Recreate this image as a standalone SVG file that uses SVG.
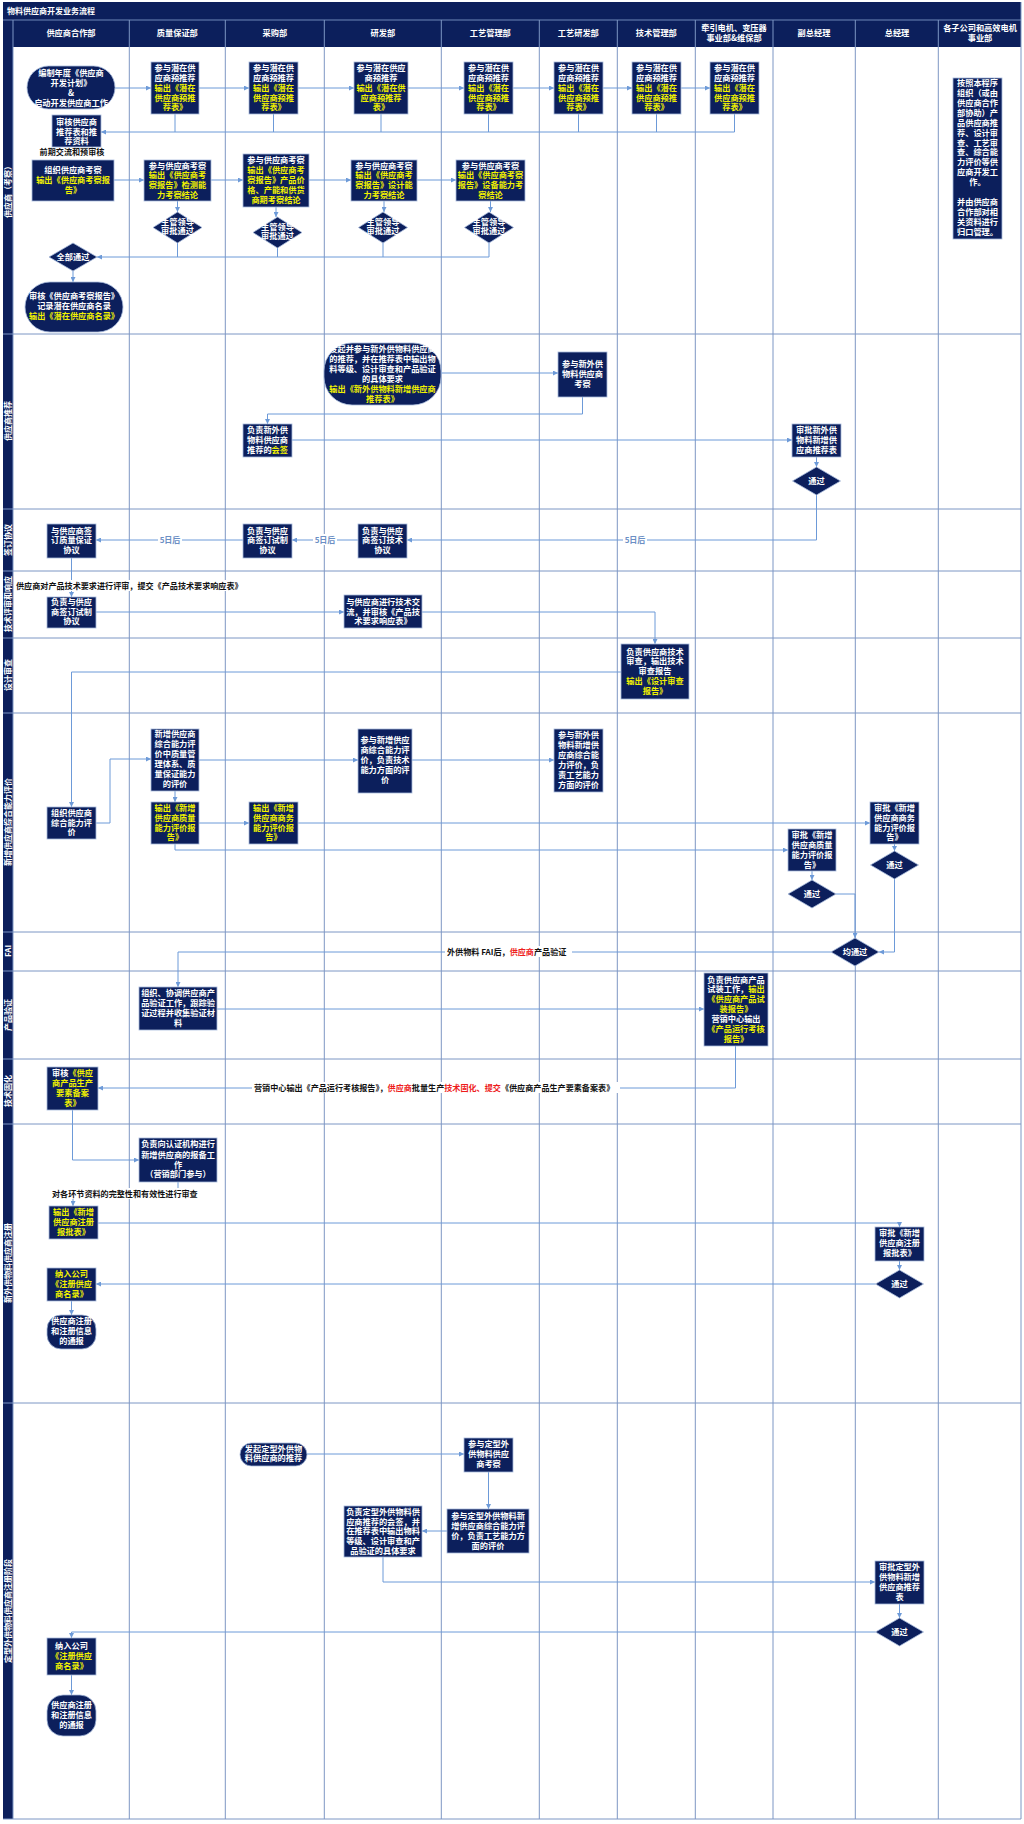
<svg xmlns="http://www.w3.org/2000/svg" width="1024" height="1824" viewBox="0 0 1024 1824">
<style>
.n{fill:#0c1f5c;stroke:#a8bbdc;stroke-width:0.8}
.t{font-family:"Noto Sans CJK SC","Noto Sans",sans-serif;font-size:8.2px;font-weight:bold;fill:#ffffff;text-anchor:middle}
.y{fill:#f2f200}
.r{fill:#ee1c1c}
.k{font-family:"Noto Sans CJK SC","Noto Sans",sans-serif;font-size:8.1px;font-weight:bold;fill:#111111}
.d{font-family:"Noto Sans CJK SC","Noto Sans",sans-serif;font-size:8px;font-weight:bold;fill:#6b8fc4;text-anchor:middle}
.h{font-family:"Noto Sans CJK SC","Noto Sans",sans-serif;font-size:8.2px;font-weight:bold;fill:#ffffff;text-anchor:middle}
.g{stroke:#7d96c4;stroke-width:1;fill:none}
.c{fill:none;stroke:#6d9ad8;stroke-width:1}
.a{marker-end:url(#ah)}
</style>
<defs>
<marker id="ah" viewBox="0 0 6 6" refX="6" refY="3" markerWidth="5" markerHeight="5" orient="auto" markerUnits="userSpaceOnUse"><path d="M0,0 L6,3 L0,6 z" fill="#6d9ad8"/></marker>
</defs>
<rect x="0" y="0" width="1024" height="1824" fill="#ffffff"/>
<!-- frame -->
<g id="frame">
<rect x="3" y="2" width="1018" height="45" fill="#0c1f5c"/>
<rect x="3" y="2" width="10" height="1817" fill="#0c1f5c"/>
<line x1="3" y1="20" x2="1021" y2="20" stroke="#6f88b8" stroke-width="1"/>
<text x="7" y="14" class="h" style="text-anchor:start;font-size:8px">物料供应商开发业务流程</text>
<g class="g">
<line x1="13" y1="20" x2="13" y2="1819"/>
<line x1="129.3" y1="20" x2="129.3" y2="1819"/>
<line x1="225.3" y1="20" x2="225.3" y2="1819"/>
<line x1="324.3" y1="20" x2="324.3" y2="1819"/>
<line x1="441.3" y1="20" x2="441.3" y2="1819"/>
<line x1="539.3" y1="20" x2="539.3" y2="1819"/>
<line x1="617.3" y1="20" x2="617.3" y2="1819"/>
<line x1="695.3" y1="20" x2="695.3" y2="1819"/>
<line x1="773" y1="20" x2="773" y2="1819"/>
<line x1="855.3" y1="20" x2="855.3" y2="1819"/>
<line x1="938.3" y1="20" x2="938.3" y2="1819"/>
<line x1="1021" y1="2" x2="1021" y2="1819"/>
<line x1="3" y1="334" x2="1021" y2="334"/>
<line x1="3" y1="509" x2="1021" y2="509"/>
<line x1="3" y1="571" x2="1021" y2="571"/>
<line x1="3" y1="638" x2="1021" y2="638"/>
<line x1="3" y1="713" x2="1021" y2="713"/>
<line x1="3" y1="932" x2="1021" y2="932"/>
<line x1="3" y1="971" x2="1021" y2="971"/>
<line x1="3" y1="1059" x2="1021" y2="1059"/>
<line x1="3" y1="1124" x2="1021" y2="1124"/>
<line x1="3" y1="1403" x2="1021" y2="1403"/>
<line x1="3" y1="1819" x2="1021" y2="1819"/>
</g>
<g class="h">
<text x="71" y="36">供应商合作部</text>
<text x="177.3" y="36">质量保证部</text>
<text x="274.8" y="36">采购部</text>
<text x="382.8" y="36">研发部</text>
<text x="490.3" y="36">工艺管理部</text>
<text x="578.3" y="36">工艺研发部</text>
<text x="656.3" y="36">技术管理部</text>
<text x="734" y="31">牵引电机、变压器</text>
<text x="734" y="41">事业部&amp;维保部</text>
<text x="814" y="36">副总经理</text>
<text x="897" y="36">总经理</text>
<text x="980" y="31">各子公司和高效电机</text>
<text x="980" y="41">事业部</text>
</g>
<g class="h" style="font-size:8px">
<text transform="translate(11,190) rotate(-90)">供应商（考察）</text>
<text transform="translate(11,421) rotate(-90)">供应商推荐</text>
<text transform="translate(11,540) rotate(-90)">签订协议</text>
<text transform="translate(11,604) rotate(-90)">技术评审和响应</text>
<text transform="translate(11,675) rotate(-90)">设计审查</text>
<text transform="translate(11,822) rotate(-90)">新增供应商综合能力评价</text>
<text transform="translate(11,951) rotate(-90)">FAI</text>
<text transform="translate(11,1015) rotate(-90)">产品验证</text>
<text transform="translate(11,1091) rotate(-90)">技术固化</text>
<text transform="translate(11,1263) rotate(-90)">新外供物料供应商注册</text>
<text transform="translate(11,1611) rotate(-90)">定型外供物料供应商注册阶段</text>
</g>
</g>

<g id="connectors">
<path class="c a" d="M115,88 H151"/>
<path class="c a" d="M199,88 H249"/>
<path class="c a" d="M298,88 H354"/>
<path class="c a" d="M408,88 H464"/>
<path class="c a" d="M513,88 H554"/>
<path class="c a" d="M603,88 H632"/>
<path class="c a" d="M681,88 H710"/>
<path class="c" d="M175,114 V132 M273.5,114 V132 M381,114 V132 M488.5,114 V132 M578.5,114 V132 M656.5,114 V132"/>
<path class="c a" d="M734.5,114 V132 H101"/>
<path class="c a" d="M114,180 H144"/>
<path class="c a" d="M211,180 H243"/>
<path class="c a" d="M309,180 H351"/>
<path class="c a" d="M417,180 H456"/>
<path class="c a" d="M177.5,201 V212"/>
<path class="c a" d="M276,207 V217"/>
<path class="c a" d="M384,201 V212"/>
<path class="c a" d="M490.5,201 V212"/>
<path class="c" d="M177.5,243 V257 M277.5,248 V257 M383,243 V257"/>
<path class="c a" d="M489,243 V257 H97"/>
<path class="c a" d="M73,271 V282"/>
<path class="c a" d="M441,373 H558"/>
<path class="c a" d="M582.5,397 V414 H267.5 V424"/>
<path class="c a" d="M292,440 H792"/>
<path class="c a" d="M816.5,457 V467"/>
<path class="c a" d="M816.5,495 V540 H407"/>
<path class="c a" d="M358,540 H292"/>
<path class="c a" d="M243,540 H96"/>
<path class="c a" d="M71.5,558 V597"/>
<path class="c a" d="M96,612 H344"/>
<path class="c a" d="M422,612 H655 V644"/>
<path class="c a" d="M621,672 H71.5 V807"/>
<path class="c a" d="M96,823 H110 V759 H151"/>
<path class="c a" d="M199,760 H358"/>
<path class="c a" d="M412,760 H554"/>
<path class="c a" d="M175,791 V802"/>
<path class="c a" d="M199,823 H249"/>
<path class="c a" d="M298,823 H870"/>
<path class="c a" d="M175,844 V850 H788"/>
<path class="c a" d="M812,871 V880"/>
<path class="c a" d="M894.5,844 V851"/>
<path class="c a" d="M836,894 H855 V938"/>
<path class="c a" d="M894.5,879 V952 H879"/>
<path class="c a" d="M831,952 H178 V987"/>
<path class="c a" d="M217,1009 H704"/>
<path class="c a" d="M735.5,1046 V1088 H98"/>
<path class="c a" d="M72.5,1110 V1160 H139"/>
<path class="c a" d="M178,1182 V1194 H73 V1206"/>
<path class="c a" d="M98,1223 H899.5 V1227"/>
<path class="c a" d="M899.5,1261 V1270"/>
<path class="c a" d="M875.5,1284 H96"/>
<path class="c a" d="M71.5,1301 V1315"/>
<path class="c a" d="M307,1454 H464"/>
<path class="c a" d="M488.5,1472 V1509"/>
<path class="c a" d="M447,1531 H422"/>
<path class="c a" d="M383,1557 V1582 H875"/>
<path class="c a" d="M899.5,1604 V1618"/>
<path class="c a" d="M875.5,1632 H71.5 V1638"/>
<path class="c a" d="M71.5,1675 V1695"/>
<!-- labels on connectors -->
<rect x="158" y="534" width="24" height="11" fill="#fff"/><text class="d" x="170" y="543">5日后</text>
<rect x="313" y="534" width="24" height="11" fill="#fff"/><text class="d" x="325" y="543">5日后</text>
<rect x="623" y="534" width="24" height="11" fill="#fff"/><text class="d" x="635" y="543">5日后</text>
<rect x="14" y="580" width="228" height="11" fill="#fff"/>
<text class="k" x="16" y="589">供应商对产品技术要求进行评审，提交《产品技术要求响应表》</text>
<text class="k" x="72" y="155" style="text-anchor:middle">前期交流和预审核</text>
<rect x="445" y="946" width="127" height="11" fill="#fff"/>
<text class="k" x="447" y="955">外供物料 FAI后，<tspan class="r">供应商</tspan>产品验证</text>
<rect x="252" y="1082" width="368" height="11" fill="#fff"/>
<text class="k" x="254" y="1091">营销中心输出《产品运行考核报告》，<tspan class="r">供应商</tspan>批量生产<tspan class="r">技术固化、提交</tspan>《供应商产品生产要素备案表》</text>
<rect x="50" y="1188" width="152" height="11" fill="#fff"/>
<text class="k" x="52" y="1197">对各环节资料的完整性和有效性进行审查</text>
</g>

<!-- Row 1 -->
<g id="n-plan"><rect class="n" x="27" y="66" width="88" height="43" rx="21.5"/>
<text class="t"><tspan x="71" y="76">编制年度《供应商</tspan><tspan x="71" y="86">开发计划》</tspan><tspan x="71" y="96">&amp;</tspan><tspan x="71" y="106">启动开发供应商工作</tspan></text></g>
<g id="n-review-rec"><rect class="n" x="52" y="115" width="49" height="32"/>
<text class="t"><tspan x="76.5" y="125">审核供应商</tspan><tspan x="76.5" y="135">推荐表和推</tspan><tspan x="76.5" y="144">荐资料</tspan></text></g>
<g id="n-org-visit"><rect class="n" x="32" y="160" width="82" height="41"/>
<text class="t"><tspan x="73" y="173">组织供应商考察</tspan><tspan x="73" y="183" class="y">输出《供应商考察报</tspan><tspan x="73" y="193" class="y">告》</tspan></text></g>

<g id="n-pre-qa"><rect class="n" x="151" y="62" width="48" height="52"/>
<text class="t"><tspan x="175" y="71">参与潜在供</tspan><tspan x="175" y="81">应商预推荐</tspan><tspan x="175" y="91" class="y">输出《潜在</tspan><tspan x="175" y="101" class="y">供应商预推</tspan><tspan x="175" y="110" class="y">荐表》</tspan></text></g>
<g id="n-pre-pur"><rect class="n" x="249" y="62" width="49" height="52"/>
<text class="t"><tspan x="273.5" y="71">参与潜在供</tspan><tspan x="273.5" y="81">应商预推荐</tspan><tspan x="273.5" y="91" class="y">输出《潜在</tspan><tspan x="273.5" y="101" class="y">供应商预推</tspan><tspan x="273.5" y="110" class="y">荐表》</tspan></text></g>
<g id="n-pre-rd"><rect class="n" x="354" y="62" width="54" height="52"/>
<text class="t"><tspan x="381" y="71">参与潜在供应</tspan><tspan x="381" y="81">商预推荐</tspan><tspan x="381" y="91" class="y">输出《潜在供</tspan><tspan x="381" y="101" class="y">应商预推荐</tspan><tspan x="381" y="110" class="y">表》</tspan></text></g>
<g id="n-pre-pm"><rect class="n" x="464" y="62" width="49" height="52"/>
<text class="t"><tspan x="488.5" y="71">参与潜在供</tspan><tspan x="488.5" y="81">应商预推荐</tspan><tspan x="488.5" y="91" class="y">输出《潜在</tspan><tspan x="488.5" y="101" class="y">供应商预推</tspan><tspan x="488.5" y="110" class="y">荐表》</tspan></text></g>
<g id="n-pre-prd"><rect class="n" x="554" y="62" width="49" height="52"/>
<text class="t"><tspan x="578.5" y="71">参与潜在供</tspan><tspan x="578.5" y="81">应商预推荐</tspan><tspan x="578.5" y="91" class="y">输出《潜在</tspan><tspan x="578.5" y="101" class="y">供应商预推</tspan><tspan x="578.5" y="110" class="y">荐表》</tspan></text></g>
<g id="n-pre-tech"><rect class="n" x="632" y="62" width="49" height="52"/>
<text class="t"><tspan x="656.5" y="71">参与潜在供</tspan><tspan x="656.5" y="81">应商预推荐</tspan><tspan x="656.5" y="91" class="y">输出《潜在</tspan><tspan x="656.5" y="101" class="y">供应商预推</tspan><tspan x="656.5" y="110" class="y">荐表》</tspan></text></g>
<g id="n-pre-motor"><rect class="n" x="710" y="62" width="49" height="52"/>
<text class="t"><tspan x="734.5" y="71">参与潜在供</tspan><tspan x="734.5" y="81">应商预推荐</tspan><tspan x="734.5" y="91" class="y">输出《潜在</tspan><tspan x="734.5" y="101" class="y">供应商预推</tspan><tspan x="734.5" y="110" class="y">荐表》</tspan></text></g>

<g id="n-visit-qa"><rect class="n" x="144" y="160" width="67" height="41"/>
<text class="t"><tspan x="177.5" y="169">参与供应商考察</tspan><tspan x="177.5" y="178" class="y">输出《供应商考</tspan><tspan x="177.5" y="188" class="y">察报告》检测能</tspan><tspan x="177.5" y="198" class="y">力考察结论</tspan></text></g>
<g id="n-visit-pur"><rect class="n" x="243" y="154" width="66" height="53"/>
<text class="t"><tspan x="276" y="163">参与供应商考察</tspan><tspan x="276" y="173" class="y">输出《供应商考</tspan><tspan x="276" y="183" class="y">察报告》产品价</tspan><tspan x="276" y="193" class="y">格、产能和供货</tspan><tspan x="276" y="203" class="y">商期考察结论</tspan></text></g>
<g id="n-visit-rd"><rect class="n" x="351" y="160" width="66" height="41"/>
<text class="t"><tspan x="384" y="169">参与供应商考察</tspan><tspan x="384" y="178" class="y">输出《供应商考</tspan><tspan x="384" y="188" class="y">察报告》设计能</tspan><tspan x="384" y="198" class="y">力考察结论</tspan></text></g>
<g id="n-visit-pm"><rect class="n" x="456" y="160" width="69" height="41"/>
<text class="t"><tspan x="490.5" y="169">参与供应商考察</tspan><tspan x="490.5" y="178" class="y">输出《供应商考察</tspan><tspan x="490.5" y="188" class="y">报告》设备能力考</tspan><tspan x="490.5" y="198" class="y">察结论</tspan></text></g>

<g id="n-dec-qa"><polygon class="n" points="177.5,212 202,227.5 177.5,243 153,227.5"/>
<text class="t"><tspan x="177.5" y="225">主管领导</tspan><tspan x="177.5" y="234">审批通过</tspan></text></g>
<g id="n-dec-pur"><polygon class="n" points="277.5,217 302,232.5 277.5,248 253,232.5"/>
<text class="t"><tspan x="277.5" y="230">主管领导</tspan><tspan x="277.5" y="239">审批通过</tspan></text></g>
<g id="n-dec-rd"><polygon class="n" points="383,212 407.5,227.5 383,243 358.5,227.5"/>
<text class="t"><tspan x="383" y="225">主管领导</tspan><tspan x="383" y="234">审批通过</tspan></text></g>
<g id="n-dec-pm"><polygon class="n" points="489,212 513.5,227.5 489,243 464.5,227.5"/>
<text class="t"><tspan x="489" y="225">主管领导</tspan><tspan x="489" y="234">审批通过</tspan></text></g>
<g id="n-all-pass"><polygon class="n" points="73,243 97,257 73,271 49,257"/>
<text class="t" x="73" y="260">全部通过</text></g>
<g id="n-potential-list"><rect class="n" x="25" y="282" width="98" height="50" rx="25"/>
<text class="t"><tspan x="74" y="299">审核《供应商考察报告》</tspan><tspan x="74" y="309">记录潜在供应商名录</tspan><tspan x="74" y="319" class="y">输出《潜在供应商名录》</tspan></text></g>
<g id="n-subsidiary"><rect class="n" x="953" y="78" width="49" height="161"/>
<text class="t"><tspan x="977.5" y="86.3">按照本程序</tspan><tspan x="977.5" y="96.2">组织（或由</tspan><tspan x="977.5" y="106">供应商合作</tspan><tspan x="977.5" y="116">部协助）产</tspan><tspan x="977.5" y="125.8">品供应商推</tspan><tspan x="977.5" y="135.6">荐、设计审</tspan><tspan x="977.5" y="145.5">查、工艺审</tspan><tspan x="977.5" y="155.4">查、综合能</tspan><tspan x="977.5" y="165.2">力评价等供</tspan><tspan x="977.5" y="175">应商开发工</tspan><tspan x="977.5" y="185">作。</tspan><tspan x="977.5" y="205">并由供应商</tspan><tspan x="977.5" y="215">合作部对相</tspan><tspan x="977.5" y="225">关资料进行</tspan><tspan x="977.5" y="234.8">归口管理。</tspan></text></g>

<!-- Row 2 -->
<g id="n-new-rec"><rect class="n" x="324" y="343" width="117" height="62" rx="28"/>
<text class="t"><tspan x="382.5" y="352">发起并参与新外供物料供应商</tspan><tspan x="382.5" y="362">的推荐，并在推荐表中输出物</tspan><tspan x="382.5" y="372">料等级、设计审查和产品验证</tspan><tspan x="382.5" y="382">的具体要求</tspan><tspan x="382.5" y="392" class="y">输出《新外供物料新增供应商</tspan><tspan x="382.5" y="401.5" class="y">推荐表》</tspan></text></g>
<g id="n-new-visit"><rect class="n" x="558" y="352" width="49" height="45"/>
<text class="t"><tspan x="582.5" y="367">参与新外供</tspan><tspan x="582.5" y="377">物料供应商</tspan><tspan x="582.5" y="387">考察</tspan></text></g>
<g id="n-countersign"><rect class="n" x="243" y="424" width="49" height="33"/>
<text class="t"><tspan x="267.5" y="433">负责新外供</tspan><tspan x="267.5" y="443">物料供应商</tspan><tspan x="267.5" y="453">推荐的<tspan class="y">会签</tspan></tspan></text></g>
<g id="n-vp-approve-rec"><rect class="n" x="792" y="424" width="49" height="33"/>
<text class="t"><tspan x="816.5" y="433">审批新外供</tspan><tspan x="816.5" y="443">物料新增供</tspan><tspan x="816.5" y="453">应商推荐表</tspan></text></g>
<g id="n-vp-pass1"><polygon class="n" points="816.5,467 840.5,481 816.5,495 792.5,481"/>
<text class="t" x="816.5" y="484">通过</text></g>

<!-- Row 3 -->
<g id="n-tech-agree"><rect class="n" x="358" y="524" width="49" height="34"/>
<text class="t"><tspan x="382.5" y="534">负责与供应</tspan><tspan x="382.5" y="543">商签订技术</tspan><tspan x="382.5" y="553">协议</tspan></text></g>
<g id="n-trial-agree"><rect class="n" x="243" y="524" width="49" height="34"/>
<text class="t"><tspan x="267.5" y="534">负责与供应</tspan><tspan x="267.5" y="543">商签订试制</tspan><tspan x="267.5" y="553">协议</tspan></text></g>
<g id="n-quality-agree"><rect class="n" x="47" y="524" width="49" height="34"/>
<text class="t"><tspan x="71.5" y="534">与供应商签</tspan><tspan x="71.5" y="543">订质量保证</tspan><tspan x="71.5" y="553">协议</tspan></text></g>

<!-- Row 4 -->
<g id="n-trial-agree2"><rect class="n" x="47" y="597" width="49" height="31"/>
<text class="t"><tspan x="71.5" y="605">负责与供应</tspan><tspan x="71.5" y="615">商签订试制</tspan><tspan x="71.5" y="624">协议</tspan></text></g>
<g id="n-tech-exchange"><rect class="n" x="344" y="595" width="78" height="33"/>
<text class="t"><tspan x="383" y="605">与供应商进行技术交</tspan><tspan x="383" y="615">流，并审核《产品技</tspan><tspan x="383" y="624">术要求响应表》</tspan></text></g>

<!-- Row 5 -->
<g id="n-design-review"><rect class="n" x="621" y="644" width="68" height="55"/>
<text class="t"><tspan x="655" y="655">负责供应商技术</tspan><tspan x="655" y="664">审查，输出技术</tspan><tspan x="655" y="674">审查报告</tspan><tspan x="655" y="684" class="y">输出《设计审查</tspan><tspan x="655" y="694" class="y">报告》</tspan></text></g>

<!-- Row 6 -->
<g id="n-org-eval"><rect class="n" x="47" y="807" width="49" height="32"/>
<text class="t"><tspan x="71.5" y="816">组织供应商</tspan><tspan x="71.5" y="826">综合能力评</tspan><tspan x="71.5" y="835">价</tspan></text></g>
<g id="n-eval-qa"><rect class="n" x="151" y="729" width="48" height="62"/>
<text class="t"><tspan x="175" y="737">新增供应商</tspan><tspan x="175" y="747">综合能力评</tspan><tspan x="175" y="757">价中质量管</tspan><tspan x="175" y="767">理体系、质</tspan><tspan x="175" y="777">量保证能力</tspan><tspan x="175" y="787">的评价</tspan></text></g>
<g id="n-eval-rd"><rect class="n" x="358" y="729" width="54" height="64"/>
<text class="t"><tspan x="385" y="743">参与新增供应</tspan><tspan x="385" y="753">商综合能力评</tspan><tspan x="385" y="763">价，负责技术</tspan><tspan x="385" y="773">能力方面的评</tspan><tspan x="385" y="783">价</tspan></text></g>
<g id="n-eval-prd"><rect class="n" x="554" y="729" width="49" height="63"/>
<text class="t"><tspan x="578.5" y="738">参与新外供</tspan><tspan x="578.5" y="748">物料新增供</tspan><tspan x="578.5" y="758">应商综合能</tspan><tspan x="578.5" y="768">力评价，负</tspan><tspan x="578.5" y="778">责工艺能力</tspan><tspan x="578.5" y="788">方面的评价</tspan></text></g>
<g id="n-qa-report"><rect class="n" x="151" y="802" width="48" height="42"/>
<text class="t y"><tspan x="175" y="811">输出《新增</tspan><tspan x="175" y="821">供应商质量</tspan><tspan x="175" y="831">能力评价报</tspan><tspan x="175" y="840">告》</tspan></text></g>
<g id="n-biz-report"><rect class="n" x="249" y="802" width="49" height="42"/>
<text class="t y"><tspan x="273.5" y="811">输出《新增</tspan><tspan x="273.5" y="821">供应商商务</tspan><tspan x="273.5" y="831">能力评价报</tspan><tspan x="273.5" y="840">告》</tspan></text></g>
<g id="n-gm-biz"><rect class="n" x="870" y="802" width="49" height="42"/>
<text class="t"><tspan x="894.5" y="811">审批《新增</tspan><tspan x="894.5" y="821">供应商商务</tspan><tspan x="894.5" y="831">能力评价报</tspan><tspan x="894.5" y="840">告》</tspan></text></g>
<g id="n-vp-qa"><rect class="n" x="788" y="829" width="48" height="42"/>
<text class="t"><tspan x="812" y="838">审批《新增</tspan><tspan x="812" y="848">供应商质量</tspan><tspan x="812" y="858">能力评价报</tspan><tspan x="812" y="868">告》</tspan></text></g>
<g id="n-vp-pass2"><polygon class="n" points="812,880 836,894 812,908 788,894"/>
<text class="t" x="812" y="897">通过</text></g>
<g id="n-gm-pass1"><polygon class="n" points="894.5,851 918.5,865 894.5,879 870.5,865"/>
<text class="t" x="894.5" y="868">通过</text></g>
<g id="n-both-pass"><polygon class="n" points="855,938 879,952 855,966 831,952"/>
<text class="t" x="855" y="955">均通过</text></g>

<!-- Row 8 -->
<g id="n-verify"><rect class="n" x="139" y="987" width="78" height="43"/>
<text class="t"><tspan x="178" y="996">组织、协调供应商产</tspan><tspan x="178" y="1006">品验证工作，跟踪验</tspan><tspan x="178" y="1016">证过程并收集验证材</tspan><tspan x="178" y="1026">料</tspan></text></g>
<g id="n-trial-install"><rect class="n" x="704" y="973" width="64" height="73"/>
<text class="t"><tspan x="736" y="983">负责供应商产品</tspan><tspan x="736" y="992">试装工作，<tspan class="y">输出</tspan></tspan><tspan x="736" y="1002" class="y">《供应商产品试</tspan><tspan x="736" y="1012" class="y">装报告》</tspan><tspan x="736" y="1022">营销中心输出</tspan><tspan x="736" y="1032" class="y">《产品运行考核</tspan><tspan x="736" y="1042" class="y">报告》</tspan></text></g>

<!-- Row 9 -->
<g id="n-elements"><rect class="n" x="47" y="1067" width="51" height="43"/>
<text class="t"><tspan x="72.5" y="1076">审核<tspan class="y">《供应</tspan></tspan><tspan x="72.5" y="1086" class="y">商产品生产</tspan><tspan x="72.5" y="1096" class="y">要素备案</tspan><tspan x="72.5" y="1106" class="y">表》</tspan></text></g>

<!-- Row 10 -->
<g id="n-cert-filing"><rect class="n" x="139" y="1138" width="78" height="44"/>
<text class="t"><tspan x="178" y="1147">负责向认证机构进行</tspan><tspan x="178" y="1158">新增供应商的报备工</tspan><tspan x="178" y="1168">作</tspan><tspan x="178" y="1177">（营销部门参与）</tspan></text></g>
<g id="n-reg-form"><rect class="n" x="49" y="1206" width="49" height="33"/>
<text class="t y"><tspan x="73.5" y="1215">输出《新增</tspan><tspan x="73.5" y="1225">供应商注册</tspan><tspan x="73.5" y="1235">报批表》</tspan></text></g>
<g id="n-gm-reg"><rect class="n" x="875" y="1227" width="49" height="34"/>
<text class="t"><tspan x="899.5" y="1236">审批《新增</tspan><tspan x="899.5" y="1246">供应商注册</tspan><tspan x="899.5" y="1256">报批表》</tspan></text></g>
<g id="n-gm-pass2"><polygon class="n" points="899.5,1270 923.5,1284 899.5,1298 875.5,1284"/>
<text class="t" x="899.5" y="1287">通过</text></g>
<g id="n-list1"><rect class="n" x="47" y="1268" width="49" height="33"/>
<text class="t y"><tspan x="71.5" y="1277">纳入公司</tspan><tspan x="71.5" y="1287">《注册供应</tspan><tspan x="71.5" y="1297">商名录》</tspan></text></g>
<g id="n-notice1"><rect class="n" x="47" y="1315" width="49" height="34" rx="14"/>
<text class="t"><tspan x="71.5" y="1324">供应商注册</tspan><tspan x="71.5" y="1334">和注册信息</tspan><tspan x="71.5" y="1344">的通报</tspan></text></g>

<!-- Row 11 -->
<g id="n-fixed-rec"><rect class="n" x="240" y="1443" width="67" height="23" rx="11.5"/>
<text class="t"><tspan x="273.5" y="1452">发起定型外供物</tspan><tspan x="273.5" y="1461">料供应商的推荐</tspan></text></g>
<g id="n-fixed-visit"><rect class="n" x="464" y="1438" width="49" height="34"/>
<text class="t"><tspan x="488.5" y="1447">参与定型外</tspan><tspan x="488.5" y="1457">供物料供应</tspan><tspan x="488.5" y="1467">商考察</tspan></text></g>
<g id="n-fixed-eval"><rect class="n" x="447" y="1509" width="82" height="44"/>
<text class="t"><tspan x="488" y="1519">参与定型外供物料新</tspan><tspan x="488" y="1529">增供应商综合能力评</tspan><tspan x="488" y="1539">价，负责工艺能力方</tspan><tspan x="488" y="1549">面的评价</tspan></text></g>
<g id="n-fixed-sign"><rect class="n" x="344" y="1506" width="78" height="51"/>
<text class="t"><tspan x="383" y="1515">负责定型外供物料供</tspan><tspan x="383" y="1525">应商推荐的会签，并</tspan><tspan x="383" y="1534">在推荐表中输出物料</tspan><tspan x="383" y="1544">等级、设计审查和产</tspan><tspan x="383" y="1554">品验证的具体要求</tspan></text></g>
<g id="n-gm-fixed"><rect class="n" x="875" y="1561" width="49" height="43"/>
<text class="t"><tspan x="899.5" y="1570">审批定型外</tspan><tspan x="899.5" y="1580">供物料新增</tspan><tspan x="899.5" y="1590">供应商推荐</tspan><tspan x="899.5" y="1600">表</tspan></text></g>
<g id="n-gm-pass3"><polygon class="n" points="899.5,1618 923.5,1632 899.5,1646 875.5,1632"/>
<text class="t" x="899.5" y="1635">通过</text></g>
<g id="n-list2"><rect class="n" x="47" y="1638" width="49" height="37"/>
<text class="t"><tspan x="71.5" y="1649">纳入公司</tspan><tspan x="71.5" y="1659" class="y">《注册供应</tspan><tspan x="71.5" y="1669" class="y">商名录》</tspan></text></g>
<g id="n-notice2"><rect class="n" x="47" y="1695" width="49" height="41" rx="16"/>
<text class="t"><tspan x="71.5" y="1708">供应商注册</tspan><tspan x="71.5" y="1718">和注册信息</tspan><tspan x="71.5" y="1728">的通报</tspan></text></g>
</svg>
